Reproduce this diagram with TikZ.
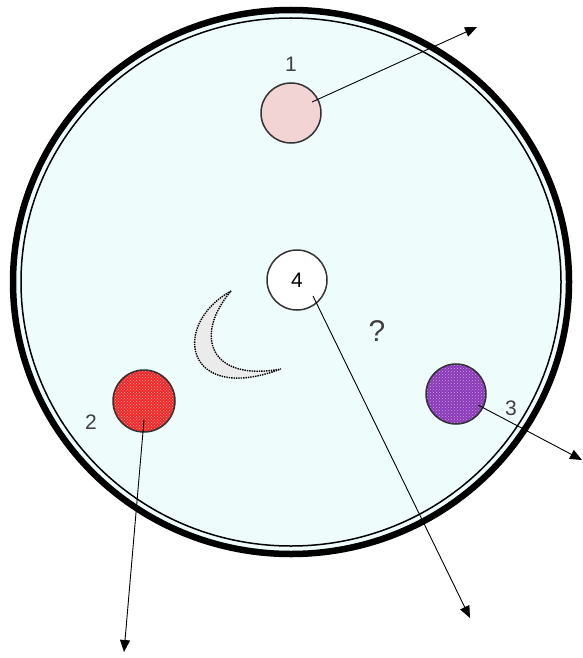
\documentclass[tikz,border=0pt]{standalone}
\usepackage{fontspec}
\setmainfont{Liberation Sans}
\usetikzlibrary{arrows.meta, positioning, patterns, calc}

\definecolor{dishfill}{HTML}{EEFCFC}
\definecolor{pinkball}{HTML}{F2D4D4}
\definecolor{redball}{HTML}{F02828}
\definecolor{purpleball}{HTML}{8A38B8}

\begin{document}
\begin{tikzpicture}[
    x=1pt, y=-1pt,
    >={Triangle[length=12pt, width=10pt]},
    ball/.style={
        circle, draw=black!80, line width=1.5pt,
        fill=#1, minimum size=60pt, inner sep=0pt,
        font=\fontsize{21}{23}\selectfont
    },
    ball/.default={white},
    tag/.style={
        font=\fontsize{21}{23}\selectfont, text=black!75
    },
    track/.style={
        ->, line width=0.9pt, black
    }
]
\useasboundingbox (0,0) rectangle (582,658);

% ── Dish ──
\fill[dishfill] (291,282) ellipse [x radius=278, y radius=272];
\draw[line width=6.5pt] (291,282) ellipse [x radius=278, y radius=272];
\draw[line width=1.5pt] (291,282) ellipse [x radius=270, y radius=264];

% ── Crescent ──
\draw[densely dotted, line width=1.4pt, fill=black!8]
    (231,291) .. controls (170,325) and (185,405) .. (281,369)
              .. controls (210,382) and (193,336) .. cycle;

% ── Bodies ──
\node[ball=pinkball] (ball1) at (291,113) {};
\node[ball] (ball4) at (297,280) {4};
\node[ball=redball, minimum size=62pt] (ball2) at (144,401) {};
\node[ball=purpleball] (ball3) at (456,394) {};
\path[pattern=crosshatch dots, pattern color=white!60!redball]
    (ball2.center) circle [radius=30];
\path[pattern=crosshatch dots, pattern color=white!55!purpleball]
    (ball3.center) circle [radius=29];

% ── Labels ──
\node[tag] (lab1) at (291,64) {1};
\node[tag] (lab2) at (91,422) {2};
\node[tag] (lab3) at (511,408) {3};
\node[tag, font=\fontsize{30}{32}\selectfont] (query) at (377,331) {?};

% ── Arrow ends ──
\coordinate (end1) at (477,27);
\coordinate (end2) at (124,652);
\coordinate (end3) at (582,460);
\coordinate (end4) at (470,618);

% ── Arrows ──
\draw[track] ($(ball1.center)+(21,-11)$) -- (end1);
\draw[track] ($(ball4.center)+(16,16)$) -- (end4);
\draw[track] ($(ball2.center)+(0,19)$) -- (end2);
\draw[track] ($(ball3.center)+(22,11)$) -- (end3);

\end{tikzpicture}
\end{document}
